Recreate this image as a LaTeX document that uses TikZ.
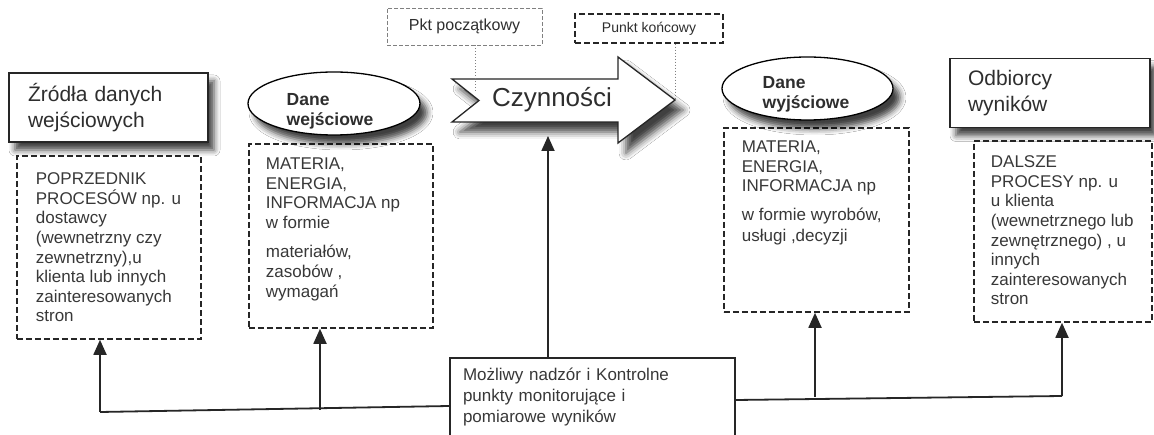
\documentclass[tikz,border=0pt]{standalone}
\usepackage{fontspec}
\setmainfont{Liberation Sans}
\usetikzlibrary{arrows.meta,shapes.geometric,shadows.blur}
\definecolor{txt}{HTML}{383838}
\definecolor{hdr}{HTML}{2E2E2E}
\definecolor{ln}{HTML}{262626}
\newcommand{\dtext}[5]{\parbox[t][#1][t]{#2}{\vspace*{#3}\raggedright\leftskip=#4\relax #5}}
\begin{document}
\begin{tikzpicture}[x=1pt,y=-1pt,
  hbox/.style={draw=ln, line width=1.8pt, fill=white,
    blur shadow={shadow xshift=6pt, shadow yshift=-8pt, shadow blur radius=6pt, shadow opacity=75},
    minimum height=69pt, align=left, text=hdr, font=\fontsize{21}{26}\selectfont},
  dbox/.style={draw=ln, line width=1.8pt, dash pattern=on 6pt off 3pt, inner sep=0pt,
    anchor=north west, text=txt, font=\fontsize{17}{19.6}\selectfont},
  ell/.style={ellipse, draw=black, line width=1.3pt, fill=white,
    blur shadow={shadow xshift=7pt, shadow yshift=-9pt, shadow blur radius=6pt, shadow opacity=75}},
  elltext/.style={align=left, text=hdr, font=\bfseries\fontsize{17.5}{20}\selectfont},
  arrowshape/.style={draw=ln, line width=1.3pt, fill=white, line join=miter,
    blur shadow={shadow xshift=8pt, shadow yshift=-10pt, shadow blur radius=7pt, shadow opacity=75}},
  mbox/.style={draw=ln, line width=1.5pt, fill=white, minimum width=285pt, minimum height=79pt,
    inner xsep=13pt, text width=259pt, align=left, text=txt, font=\fontsize{17}{21}\selectfont},
  pbox/.style={draw=gray, line width=0.9pt, dash pattern=on 4pt off 2pt, inner sep=0pt},
  kbox/.style={draw=ln, line width=1.5pt, dash pattern=on 6pt off 3pt, inner sep=0pt},
  dotc/.style={draw=gray, line width=1pt, dotted},
  conn/.style={draw=ln, line width=1.8pt},
  arr/.style={draw=ln, line width=1.8pt, -{Triangle[width=13pt,length=15pt]}}
]
\useasboundingbox (0,0) rectangle (1154,435);
\fill[white] (0,0) rectangle (1154,435);

% dashed content boxes
\node[dbox] (b1) at (16,155) {\dtext{183pt}{184pt}{17pt}{19pt}{POPRZEDNIK\\ PROCESÓW np. u\\ dostawcy\\ (wewnetrzny czy\\ zewnetrzny),u\\ klienta lub innych\\ zainteresowanych\\ stron}};
\node[dbox] (b2) at (248,143) {\dtext{184pt}{184pt}{14pt}{17pt}{MATERIA,\\ ENERGIA,\\ INFORMACJA np\\ w formie\\[10pt] materiałów,\\ zasobów ,\\ wymagań}};
\node[dbox] (b3) at (723,127) {\dtext{184pt}{185pt}{13pt}{18pt}{MATERIA,\\ ENERGIA,\\ INFORMACJA np\\[9pt] w formie wyrobów,\\[2pt] usługi ,decyzji}};
\node[dbox] (b4) at (973,140) {\dtext{181pt}{178pt}{15pt}{17pt}{DALSZE\\ PROCESY np. u\\ u klienta\\ (wewnetrznego lub\\ zewnętrznego) , u\\ innych\\ zainteresowanych\\ stron}};

% header boxes
\node[hbox, minimum width=199pt, inner xsep=19pt, text width=161pt] (h1) at (108.5,107.5) {Źródła danych\\ wejściowych};
\node[hbox, minimum width=200pt, inner xsep=18pt, text width=164pt] (h2) at (1050,93) {Odbiorcy\\ wyników};

% ellipses
\node[ell, minimum width=172pt, minimum height=63pt,
  label={[elltext, xshift=-4pt, yshift=-8pt]center:{Dane\\ wejściowe}}] (e1) at (334,103.5) {};
\node[ell, minimum width=171pt, minimum height=63pt,
  label={[elltext, xshift=-1.5pt, yshift=-5.5pt]center:{Dane\\ wyjściowe}}] (e2) at (807.5,88.5) {};

% activity arrow
\draw[arrowshape] (452,79) -- (618,79) -- (618,57) -- (675,100) -- (618,143) -- (618,122) -- (452,122) -- (479,100.5) -- cycle;
\node[text=hdr, font=\fontsize{26}{30}\selectfont] (czyn) at (552,100) {Czynności};

% start / end point labels
\node[pbox, minimum width=155pt, minimum height=37pt, font=\fontsize{16}{18}\selectfont, text=hdr] (pp) at (464.5,26.5) {Pkt początkowy};
\node[kbox, minimum width=148pt, minimum height=29pt, font=\fontsize{14}{16}\selectfont, text=hdr] (pk) at (649,28.5) {Punkt końcowy};
\coordinate (ps) at (475,93);
\coordinate (tip) at (675,100);
\draw[dotc] (pp.south -| ps) -- (ps);
\draw[dotc] (pk.south -| tip) -- (tip);

% monitoring box
\node[mbox] (m) at (592.5,397.5) {Możliwy nadzór i Kontrolne\\ punkty monitorujące i\\ pomiarowe wyników};

% connectors
\coordinate (jl) at (100,412);
\coordinate (j2) at (320,410);
\coordinate (jr) at (1062,396);
\coordinate (j3) at (815,397);
\coordinate (ct) at (548,136);
\draw[conn] ([yshift=-8.5pt]m.west) -- (jl);
\draw[arr] (jl) -- (b1.south -| jl);
\draw[arr] (j2) -- (b2.south -| j2);
\draw[conn] ([yshift=-2.5pt]m.east) -- (jr);
\draw[arr] (jr) -- (b4.south -| jr);
\draw[arr] (j3) -- (b3.south -| j3);
\draw[arr] (m.north -| ct) -- (ct);
\end{tikzpicture}
\end{document}
